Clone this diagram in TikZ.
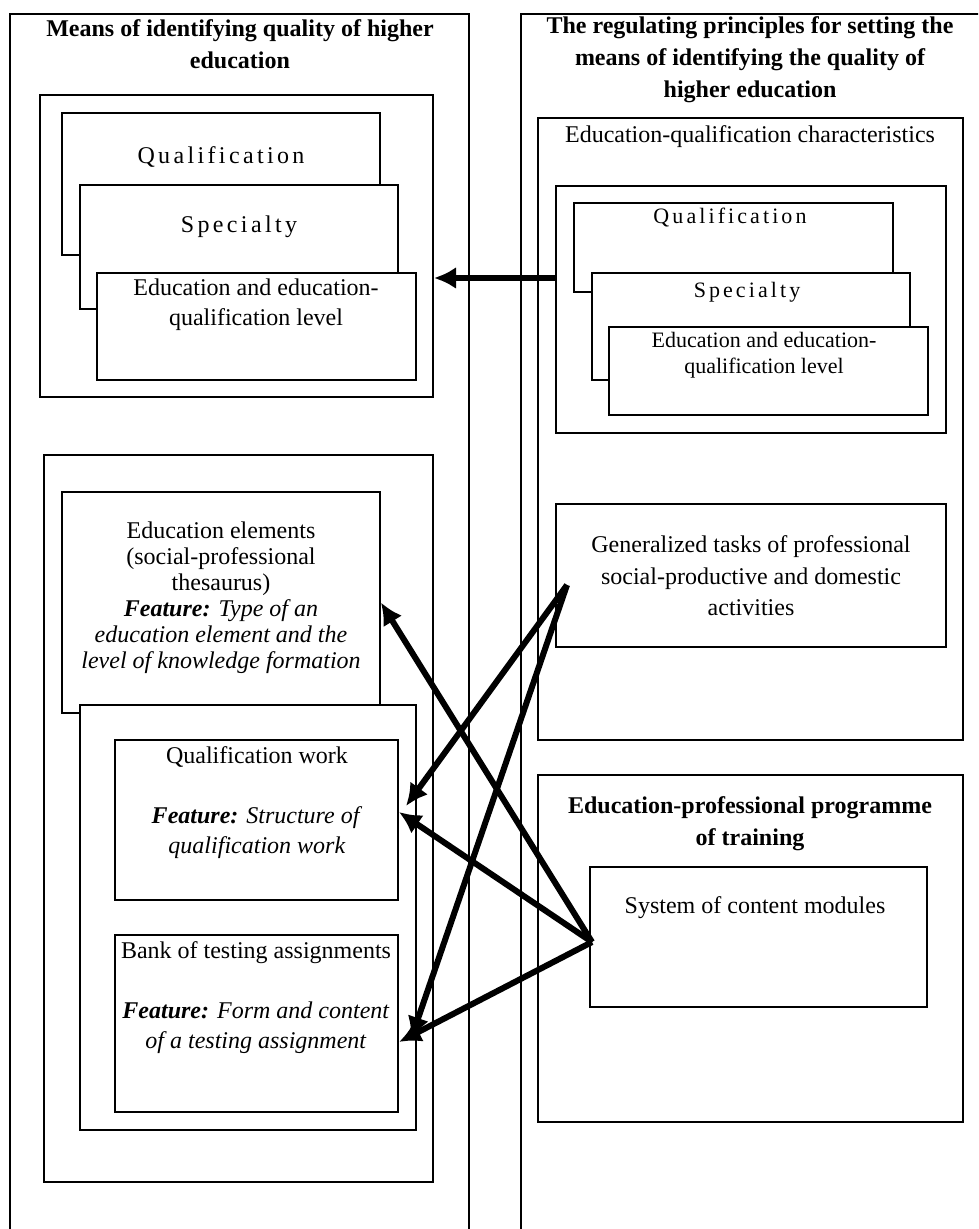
\documentclass[tikz,border=0pt]{standalone}
\usepackage{fontspec}
\setmainfont{Liberation Serif}
\usetikzlibrary{arrows.meta,fit}
\newcommand{\spaced}{\addfontfeature{LetterSpace=14}}
\newcommand{\feat}[1]{\textbf{\textit{Feature:}} \textit{#1}}
\tikzset{box/.style={draw,fill=white,line width=0.9pt,inner sep=0pt},
  txt/.style={align=center,inner sep=0pt,font=\fontsize{12}{15}\selectfont},
  small/.style={align=center,inner sep=0pt,font=\fontsize{11}{13}\selectfont},
  head/.style={align=center,inner sep=0pt,font=\fontsize{12}{16}\selectfont\bfseries},
  link/.style={line width=3pt,-{Latex[length=11pt,width=11pt]}}}

\begin{document}
\begin{tikzpicture}[x=0.5pt,y=-0.5pt]
    \useasboundingbox (0,0) rectangle (978,1229);
    \clip (0,0) rectangle (978,1229);
    % two columns
    \node[box,fit={(10,14) (469,1240)}] (colL) {};
    \node[box,fit={(521,14) (990,1240)}] (colR) {};
    \node[head] (headL) at (240,44) {Means of identifying quality of higher\\education};
    \node[head] (headR) at (750,60) {The regulating principles for setting the\\means of identifying the quality of\\higher education};
    % left, upper group
    \node[box,fit={(40,95) (433,397)}] (grpA) {};
    \node[box,fit={(62,113) (380,255)}] (qualA) {};
    \node[txt,font=\fontsize{12}{15}\selectfont\spaced] (qualAt) at (221,157) {Qualification};
    \node[box,fit={(80,185) (398,309)}] (specA) {};
    \node[txt,font=\fontsize{12}{15}\selectfont\spaced] (specAt) at (239,227) {Specialty};
    \node[box,fit={(97,273) (416,380)}] (levA) {};
    \node[txt] (levAt) at (256,305) {Education and education-\\qualification level};
    % right, characteristics
    \node[box,fit={(538,118) (963,740)}] (chars) {};
    \node[txt] (charst) at (750,137) {Education-qualification characteristics};
    \node[box,fit={(556,186) (946,433)}] (grpB) {};
    \node[box,fit={(574,203) (893,292)}] (qualB) {};
    \node[small,font=\fontsize{11}{13}\selectfont\spaced] (qualBt) at (730,218) {Qualification};
    \node[box,fit={(592,273) (910,380)}] (specB) {};
    \node[small,font=\fontsize{11}{13}\selectfont\spaced] (specBt) at (747,292) {Specialty};
    \node[box,fit={(609,327) (928,415)}] (levB) {};
    \node[small] (levBt) at (764,355) {Education and education-\\qualification level};
    \node[box,fit={(556,504) (946,647)}] (tasks) {};
    \node[txt,font=\fontsize{12}{15.8}\selectfont] (taskst) at (751,576) {Generalized tasks of professional\\social-productive and domestic\\activities};
    % right, programme
    \node[box,fit={(538,775) (963,1122)}] (prog) {};
    \node[head] (progt) at (750,824) {Education-professional programme\\of training};
    \node[box,fit={(590,867) (927,1007)}] (modules) {};
    \node[txt] (modulest) at (755,908) {System of content modules};
    % left, lower group
    \node[box,fit={(44,455) (433,1182)}] (grpC) {};
    \node[box,fit={(62,492) (380,713)}] (elem) {};
    \node[txt,font=\fontsize{12}{13}\selectfont] (elemt) at (221,598) {Education elements\\(social-professional\\thesaurus)\\\feat{Type of an}\\\textit{education element and the}\\\textit{level of knowledge formation}};
    \node[box,fit={(80,705) (416,1130)}] (grpD) {};
    \node[box,fit={(115,740) (398,900)}] (work) {};
    \node[txt] (workt) at (257,803) {Qualification work\\[15pt]\feat{Structure of}\\\textit{qualification work}};
    \node[box,fit={(115,935) (398,1112)}] (bank) {};
    \node[txt] (bankt) at (256,998) {Bank of testing assignments\\[15pt]\feat{Form and content}\\\textit{of a testing assignment}};
    % connectors
    \coordinate (fromB) at (556,278);
    \coordinate (toA) at (434,278);
    \coordinate (fromT) at (567,585);
    \coordinate (fromM) at (592,942);
    \coordinate (toWorkT) at (406,806);
    \coordinate (toWorkM) at (399,812);
    \coordinate (toBankT) at (411,1039);
    \coordinate (toBankM) at (399,1042);
    \draw[link] (fromB) -- (toA);
    \draw[link] (fromT) -- (toWorkT);
    \draw[link] (fromT) -- (toBankT);
    \draw[link] (fromM) -- (elem.east);
    \draw[link] (fromM) -- (toWorkM);
    \draw[link] (fromM) -- (toBankM);
\end{tikzpicture}
\end{document}
